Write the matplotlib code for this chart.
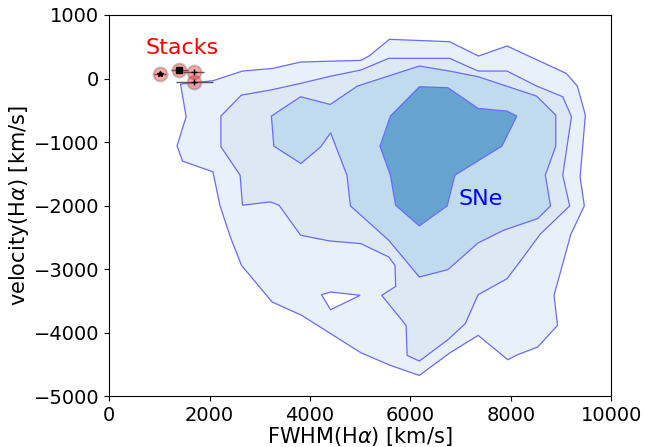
import matplotlib
matplotlib.use('Agg')
import matplotlib.pyplot as plt
from matplotlib.patches import Polygon
from matplotlib.path import Path
from matplotlib.patches import PathPatch

# contour polygons: (FWHM, velocity) in km/s
level1_x = [1422, 2067, 2656, 3259, 3814, 5014, 5187, 5583, 6782, 7358, 7927, 9106, 9327, 9487,
            9383, 9466, 9196, 8863, 8932, 8537, 8135, 7941, 7351, 6782, 6179, 5603, 5014, 4182,
            3835, 3246, 2635, 2413, 2205, 2067, 1463, 1352, 1533]
level1_y = [-87, -34, 118, 160, 260, 286, 360, 617, 580, 354, 512, 81, -118, -575,
            -1546, -2002, -2454, -3409, -3882, -4223, -4344, -4422, -4039, -4317, -4669, -4511, -4312, -3897,
            -3724, -3514, -2937, -2491, -1992, -1467, -1299, -1058, -601]
hole_x = [4230, 4411, 5000, 4411]
hole_y = [-3399, -3357, -3409, -3635]

level2_x = [2226, 2635, 3211, 3814, 4424, 5014, 5569, 6782, 7351, 7927, 8516, 9036, 9210, 9036,
            9175, 8585, 8204, 7927, 7351, 7094, 6748, 6179, 5936, 5915, 5430, 5708, 5694, 5569,
            5014, 4390, 3814, 3384, 3211, 2656, 2608, 2226]
level2_y = [-590, -260, -181, -76, 39, 134, 318, 318, 118, 118, -118, -286, -601, -1520,
            -2002, -2449, -2858, -3147, -3399, -3855, -4107, -4443, -4354, -3882, -3409, -3268, -2937, -2806,
            -2596, -2554, -2464, -1992, -1940, -1992, -1520, -1073]

level3_x = [3232, 3814, 4404, 4945, 6179, 6782, 7351, 8516, 8897, 8897, 8689, 8793, 8537, 7857,
            7351, 6748, 6179, 5569, 4806, 4737, 4411, 4216, 3821, 3280]
level3_y = [-590, -286, -407, -118, 197, 118, 29, -276, -575, -1063, -1520, -2002, -2202, -2386,
            -2585, -3005, -3121, -2543, -2002, -1520, -853, -1073, -1336, -1063]

level4_x = [6179, 6748, 7351, 7927, 8121, 7823, 6886, 6734, 6179, 5707, 5603, 5395, 5603]
level4_y = [-129, -144, -470, -512, -590, -1063, -1520, -2002, -2317, -1992, -1520, -1063, -590]

fill_colors = ['#e8f0f9', '#dce9f5', '#c0dbed', '#67a3cf']

# stacked spectra
stack_fwhm = [1006, 1394, 1685, 1699]
stack_vel = [71, 134, 108, -50]
stack_xerr = [120, 170, 210, 370]
stack_markers = ['*', 's', '+', '+']

fig = plt.figure(figsize=(6.46, 4.47), dpi=100)
ax = fig.add_axes([0.169, 0.113, 0.777, 0.8535])

# outer level with a hole
outer = list(zip(level1_x, level1_y))
hole = list(zip(hole_x, hole_y))[::-1]
verts = outer + [outer[0]] + hole + [hole[0]]
codes = ([Path.MOVETO] + [Path.LINETO] * (len(outer) - 1) + [Path.CLOSEPOLY]
         + [Path.MOVETO] + [Path.LINETO] * (len(hole) - 1) + [Path.CLOSEPOLY])
ax.add_patch(PathPatch(Path(verts, codes), facecolor=fill_colors[0],
                       edgecolor='#6a6aff', lw=0.9))

for xs, ys, c in [(level2_x, level2_y, fill_colors[1]),
                  (level3_x, level3_y, fill_colors[2]),
                  (level4_x, level4_y, fill_colors[3])]:
    ax.add_patch(Polygon(list(zip(xs, ys)), closed=True, facecolor=c,
                         edgecolor='#6a6aff', lw=0.9))

for x, y, xe, m in zip(stack_fwhm, stack_vel, stack_xerr, stack_markers):
    ax.errorbar(x, y, xerr=xe, fmt='none', ecolor='#555555', elinewidth=1.0, zorder=4)
    ax.plot(x, y, 'o', ms=10, mfc=(1, 0, 0, 0.35), mec=(0.4, 0.4, 0.4, 0.35), mew=1.5, zorder=5)
    ax.plot(x, y, m, ms=4, color='k', zorder=6)

ax.text(730, 480, 'Stacks', color='red', fontsize=16, va='center')
ax.text(6950, -1890, 'SNe', color='blue', fontsize=16, va='center')

ax.set_xlim(0, 10000)
ax.set_ylim(-5000, 1000)
ax.set_xlabel(r'FWHM(H$\alpha$) [km/s]', fontsize=15, labelpad=0)
ax.set_ylabel(r'velocity(H$\alpha$) [km/s]', fontsize=15, labelpad=2)
ax.tick_params(labelsize=14)

fig.savefig('out.png', dpi=100)
